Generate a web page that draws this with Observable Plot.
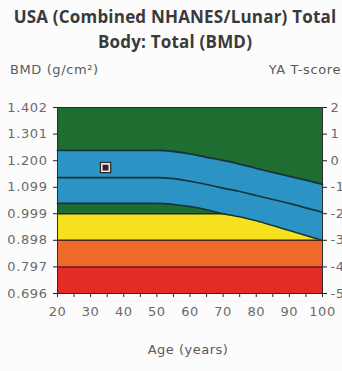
<!DOCTYPE html>
<html>
<head>
<meta charset="utf-8">
<script src="https://cdn.jsdelivr.net/npm/d3@7"></script>
<script src="https://cdn.jsdelivr.net/npm/@observablehq/plot@0.6"></script>
<style>
  html, body { margin: 0; padding: 0; background: #fdfcfc; overflow: hidden; }
  #wrap { position: relative; width: 342px; height: 371px; }
  #chart { position: absolute; left: 0; top: 0; }
  .txt { position: absolute; font-family: "DejaVu Sans", sans-serif; color: #5a5a5a; white-space: nowrap; }
  #title { left: 4px; width: 342px; top: 4px; text-align: center; font-family: "Open Sans", sans-serif; font-weight: 700; font-size: 17px; letter-spacing: 0.2px; line-height: 25px; color: #3a3a3a; }
  #ylab { left: 10px; top: 62px; font-size: 13px; letter-spacing: 0.6px; }
  #tlab { right: 1px; top: 62px; font-size: 13px; letter-spacing: 0.6px; }
  #xlab { left: 0; width: 376px; top: 342px; text-align: center; font-size: 13px; letter-spacing: 0.5px; }
</style>
</head>
<body>
<div id="wrap">
  <div id="chart"></div>
  <div id="title" class="txt">USA (Combined NHANES/Lunar) Total<br>Body: Total (BMD)</div>
  <div id="ylab" class="txt">BMD (g/cm²)</div>
  <div id="tlab" class="txt">YA T-score</div>
  <div id="xlab" class="txt">Age (years)</div>
</div>
<script>
// ---- data ----
const ages     = [20, 50, 55, 60, 65, 70, 75, 80, 85, 90, 95, 100];
const upperBMD = [1.239, 1.239, 1.235, 1.226, 1.213, 1.201, 1.187, 1.171, 1.156, 1.141, 1.126, 1.110];
const meanBMD  = [1.136, 1.136, 1.132, 1.122, 1.110, 1.096, 1.083, 1.068, 1.053, 1.038, 1.021, 1.004];
const lowerBMD = [1.038, 1.038, 1.034, 1.026, 1.014, 0.999, 0.987, 0.972, 0.954, 0.935, 0.916, 0.897];

const bmdTicks    = [1.402, 1.301, 1.200, 1.099, 0.999, 0.898, 0.797, 0.696];
const tScoreTicks = ["2", "1", "0", "-1", "-2", "-3", "-4", "-5"];
const ageTicks    = [20, 30, 40, 50, 60, 70, 80, 90, 100];
const ageMinorTicks = [20, 25, 30, 35, 40, 45, 50, 55, 60, 65, 70, 75, 80, 85, 90, 95, 100];

// zone boundaries (BMD): green, yellow, orange, red
const zoneLow  = [0.999, 0.898, 0.797, 0.696];
const zoneHigh = [1.402, 0.999, 0.898, 0.797];

const patientAge = [34.5];
const patientBMD = [1.174];

// ---- styles ----
const zoneColors = ["#1f6d31", "#f5e11d", "#ee6a2b", "#e42b28"];
const bandColor = "#2c94c5";
const lineColor = "#16333a";

const band = ages.map((a, i) => ({age: a, upper: upperBMD[i], mean: meanBMD[i], lower: lowerBMD[i]}));
const zones = zoneLow.map((lo, i) => ({lo, hi: zoneHigh[i], x1: ages[0], x2: ages[ages.length - 1]}));
const patient = patientAge.map((a, i) => ({age: a, bmd: patientBMD[i]}));
const tMap = new Map(bmdTicks.map((b, i) => [b, tScoreTicks[i]]));

const zoneMark = (i) => Plot.rect([zones[i]], {x1: "x1", x2: "x2", y1: "lo", y2: "hi", fill: zoneColors[i]});

const chart = Plot.plot({
  width: 342,
  height: 371,
  marginTop: 107,
  marginBottom: 78,
  marginLeft: 57,
  marginRight: 20,
  style: {background: "transparent", fontFamily: "DejaVu Sans, sans-serif", fontSize: "13px", color: "#666", letterSpacing: "0.6px"},
  x: {domain: [20, 100]},
  y: {domain: [0.696, 1.402]},
  marks: [
    zoneMark(0),
    zoneMark(1),
    Plot.ruleY([zoneLow[0]], {stroke: "#2a2a14", strokeWidth: 1.5}),
    Plot.areaY(band, {x: "age", y1: "lower", y2: "upper", fill: bandColor, curve: "monotone-x"}),
    Plot.line(band, {x: "age", y: "upper", stroke: lineColor, strokeWidth: 1.8, curve: "monotone-x"}),
    Plot.line(band, {x: "age", y: "mean", stroke: lineColor, strokeWidth: 1.6, curve: "monotone-x"}),
    Plot.line(band, {x: "age", y: "lower", stroke: lineColor, strokeWidth: 1.6, curve: "monotone-x"}),
    zoneMark(2),
    zoneMark(3),
    Plot.ruleY([zoneLow[1]], {stroke: "#4a2a10", strokeWidth: 1.5}),
    Plot.ruleY([zoneLow[2]], {stroke: "#6a1a10", strokeWidth: 1.5}),
    Plot.dot(patient, {x: "age", y: "bmd", symbol: "square", r: 6.5, fill: "#2a2a2a", stroke: "none"}),
    Plot.dot(patient, {x: "age", y: "bmd", symbol: "square", r: 4.2, fill: "#3b1c1c", stroke: "#e6e6e6", strokeWidth: 1.6}),
    Plot.frame({stroke: "#2a2a2a", strokeWidth: 1}),
    Plot.axisY(bmdTicks, {anchor: "left", tickSize: 4, tickPadding: 6, tickFormat: d3.format(".3f"), stroke: "#222", fill: "#6a6a6a", fontSize: 13, label: null}),
    Plot.axisY(bmdTicks, {anchor: "right", tickSize: 4, tickPadding: 4, tickFormat: d => tMap.get(d), stroke: "#222", fill: "#6a6a6a", fontSize: 13, label: null}),
    Plot.axisX(ageMinorTicks, {anchor: "bottom", tickSize: 4, tickFormat: () => "", stroke: "#222", label: null}),
    Plot.axisX(ageTicks, {anchor: "bottom", tickSize: 0, tickPadding: 13, fill: "#6a6a6a", fontSize: 13, label: null})
  ]
});
document.getElementById("chart").appendChild(chart);
</script>
</body>
</html>
